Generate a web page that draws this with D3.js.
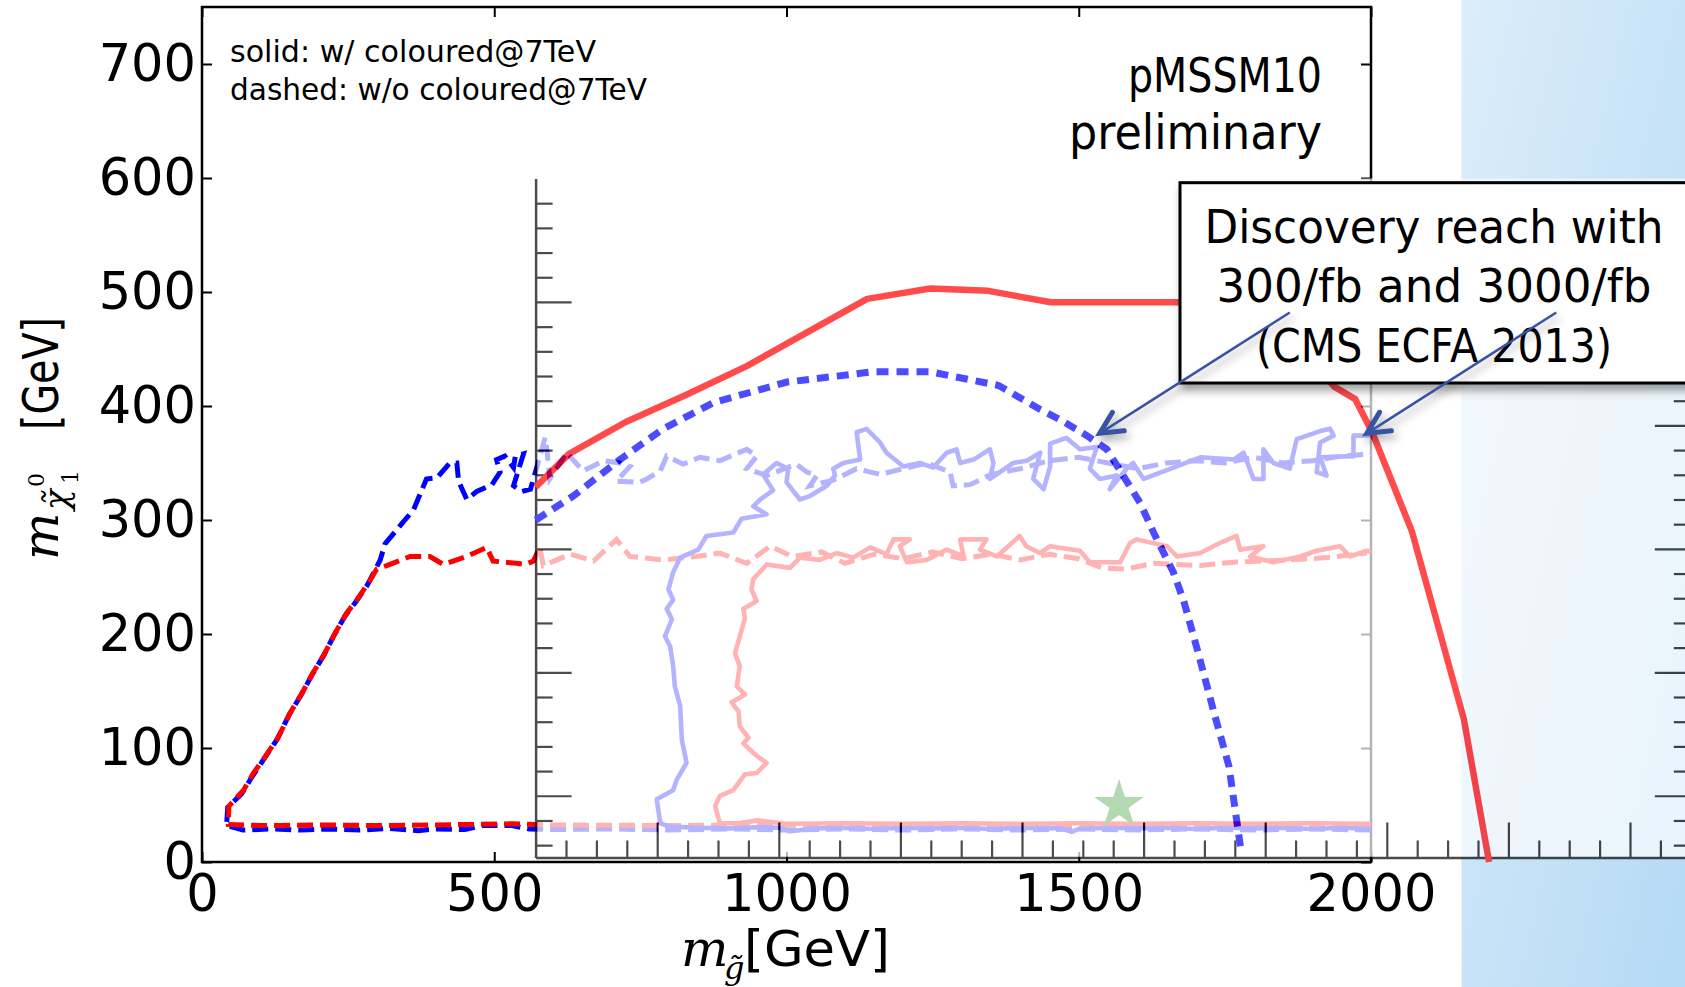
<!DOCTYPE html>
<html><head><meta charset="utf-8">
<script src="https://cdn.jsdelivr.net/npm/d3@7"></script>
<style>html,body{margin:0;padding:0;background:#fff;}svg{display:block;}</style>
</head><body>
<svg id="c" width="1685" height="987"></svg>
<script>
// ---------------- data (main plot units: gluino mass, neutralino mass in GeV) ----------------
const xTickValues = [0, 500, 1000, 1500, 2000];
const yTickValues = [0, 100, 200, 300, 400, 500, 600, 700];

const redDashed = [[2000,32],[1800,32.5],[1600,32],[1400,32.5],[1200,32],[1000,32.5],[800,32],[600,32.5],[530,33.5],[400,32.5],[300,32],[200,32.5],[100,32],[45,33],[46,49],[71,63],[88,78],[105,90],[131,110],[151,131],[171,148],[190,166],[210,183],[228,201],[247,218],[265,230],[285,245],[299,257],[316,260],[356,268],[390,268],[413,261],[453,268],[487,276],[498,264],[538,262],[553,261],[567,264],[578,276],[584,260],[630,270],[670,264],[709,283],[732,268],[789,265],[846,268],[886,271],[932,262],[972,277],[1010,268],[1060,272],[1100,262],[1150,270],[1200,266],[1250,272],[1300,266],[1350,270],[1400,265],[1450,270],[1500,266],[1540,258],[1582,257],[1628,262],[1708,260],[1765,263],[1861,265],[1924,267],[1993,271]];

const blueDashed = [[2000,28],[1900,29],[1800,28],[1700,29],[1600,28],[1500,29],[1400,28],[1300,29],[1200,28],[1100,29],[1000,28],[900,29],[800,28],[700,29],[600,28.5],[560,29],[530,32],[480,32],[450,28.5],[400,29],[370,27.5],[320,29.5],[270,28],[220,29],[170,28],[120,29],[70,28],[42,32],[44,48],[68,60],[86,75],[103,88],[129,108],[149,129],[169,146],[188,164],[208,181],[226,199],[245,216],[263,228],[283,243],[305,265],[313,279],[339,295],[362,309],[384,336],[402,337],[424,350],[436,350],[439,334],[453,318],[470,325],[496,331],[510,342],[504,353],[518,356],[533,346],[536,356],[550,358],[533,330],[547,325],[562,327],[575,350],[587,372],[590,362],[595,336],[624,359],[652,343],[687,352],[715,350],[732,347],[709,334],[749,333],[761,336],[784,343],[795,356],[823,349],[852,355],[886,352],[932,362],[949,356],[932,345],[966,339],[1017,349],[1035,342],[1052,339],[1040,330],[1080,335],[1120,345],[1160,340],[1200,345],[1240,350],[1280,342],[1285,330],[1314,331],[1350,340],[1400,345],[1450,352],[1500,355],[1550,350],[1600,345],[1650,350],[1700,352],[1750,350],[1800,355],[1850,350],[1900,352],[1950,356],[2000,358]];

const blueSolid = [[2000,29],[1950,30],[1900,29],[1850,30],[1800,29.5],[1750,30],[1700,29],[1650,30],[1600,29.5],[1550,30],[1500,29],[1488,26.5],[1470,29.5],[1400,30],[1350,29],[1300,30],[1250,29.5],[1200,30],[1150,29],[1100,30],[1050,29.5],[1006,27],[990,30],[950,30.5],[900,29.5],[850,30],[800,31],[784,34],[778,55],[806,63],[812,72],[829,87],[821,107],[818,137],[809,154],[806,172],[801,189],[792,198],[804,213],[795,222],[806,230],[798,239],[806,254],[818,267],[849,274],[863,286],[909,289],[923,301],[966,305],[943,312],[955,318],[977,326],[960,340],[983,350],[1003,345],[1000,333],[1023,318],[1040,321],[1069,330],[1083,339],[1080,345],[1097,350],[1126,353],[1120,377],[1137,380],[1160,368],[1171,359],[1200,347],[1228,350],[1251,346],[1274,359],[1291,362],[1297,350],[1320,353],[1348,362],[1354,350],[1348,336],[1365,342],[1388,350],[1411,352],[1434,359],[1422,336],[1440,327],[1451,347],[1451,367],[1479,372],[1502,362],[1531,364],[1519,345],[1536,336],[1565,339],[1553,327],[1582,345],[1593,350],[1611,336],[1662,346],[1708,355],[1765,353],[1782,359],[1799,336],[1816,336],[1816,362],[1833,350],[1861,345],[1873,371],[1913,378],[1930,380],[1936,374],[1913,368],[1907,342],[1924,339],[1913,355],[1970,356],[1970,374],[1993,374],[2000,375]];

const redSolid = [[2000,33.5],[1900,34],[1800,33.5],[1700,34],[1600,33.5],[1500,34],[1400,33.5],[1300,34],[1200,33.5],[1100,34],[1000,33.5],[950,36.5],[920,34],[886,34],[878,49],[886,58],[909,63],[929,77],[949,78],[966,87],[949,93],[926,104],[935,109],[920,119],[918,132],[906,140],[929,147],[915,154],[920,172],[912,183],[920,198],[929,214],[926,222],[949,229],[940,239],[943,248],[966,261],[1006,258],[1023,267],[1057,265],[1086,271],[1114,267],[1143,276],[1171,270],[1183,283],[1211,283],[1194,277],[1206,263],[1240,265],[1274,274],[1303,268],[1297,283],[1342,283],[1331,274],[1360,268],[1399,286],[1410,277],[1434,271],[1451,277],[1502,273],[1519,263],[1571,263],[1588,280],[1599,283],[1651,277],[1668,268],[1708,271],[1742,280],[1770,286],[1776,274],[1816,277],[1793,268],[1833,263],[1879,268],[1907,273],[1947,277],[1964,268],[1993,273],[2000,272]];

const bestFit = [1569, 50];

// overlaid CMS ECFA 2013 discovery reach (read in main-plot units)
const reach3000 = [[571,329],[628,358],[725,386],[825,409],[932,435],[1138,494],[1246,503],[1345,501],[1452,491],[1668,491],[1790,480],[1880,450],[1937,417],[1973,406],[2002,377],[2070,290],[2159,125],[2202,0]];
const reach300 = [[571,300],[635,321],[715,353],[789,380],[875,403],[1001,421],[1148,430],[1246,430],[1363,418],[1434,397],[1468,388],[1514,374],[1548,362],[1576,339],[1605,315],[1628,289],[1662,254],[1679,230],[1703,186],[1733,128],[1757,84],[1777,12]];

// overlay's own (unlabelled) axis ticks
const ovMajorX = [600,800,1000,1200,1400,1600,1800,2000,2200];
const ovMinorX = [450,500,550,650,700,750,850,900,950,1050,1100,1150,1250,1300,1350,1450,1500,1550,1650,1700,1750,1850,1900,1950,2050,2100,2150,2250];
const ovMajorY = [100,200,300,400,500];
const ovMinorY = [60,80,120,140,160,180,220,240,260,280,320,340,360,380,420,440,460,480,520,540,560,580];

// annotation arrows (tail -> head), main-plot units
const arrows = [ {from:[1861,482], to:[1536,376]}, {from:[2317,482], to:[1993,376]} ];

const legendLines = ["solid: w/ coloured@7TeV", "dashed: w/o coloured@7TeV"];
const tagLines = ["pMSSM10", "preliminary"];
const boxLines = ["Discovery reach with", "300/fb and 3000/fb", "(CMS ECFA 2013)"];

// ---------------- drawing ----------------
const W = 1685, H = 987;
const SANS = "'DejaVu Sans', Verdana, sans-serif";
const SERIF = "'DejaVu Serif', 'Liberation Serif', serif";
const svg = d3.select('#c');
const defs = svg.append('defs');
const gr = defs.append('linearGradient').attr('id','slideBlue').attr('x1','0').attr('y1','0').attr('x2','1').attr('y2','1');
gr.append('stop').attr('offset','0%').attr('stop-color','#dcedfa');
gr.append('stop').attr('offset','100%').attr('stop-color','#b4daf5');
const fl = defs.append('filter').attr('id','shadow').attr('x','-10%').attr('y','-20%').attr('width','130%').attr('height','150%');
fl.append('feDropShadow').attr('dx',3).attr('dy',6).attr('stdDeviation',5).attr('flood-color','#000').attr('flood-opacity',0.38);
const fl2 = defs.append('filter').attr('id','ashadow').attr('x','-20%').attr('y','-20%').attr('width','150%').attr('height','150%');
fl2.append('feDropShadow').attr('dx',3).attr('dy',5).attr('stdDeviation',4).attr('flood-color','#000').attr('flood-opacity',0.35);

svg.append('rect').attr('width',W).attr('height',H).attr('fill','#fff');
svg.append('rect').attr('x',1461.5).attr('y',0).attr('width',W-1461.5).attr('height',H).attr('fill','url(#slideBlue)');

const x = d3.scaleLinear().domain([0,2000]).range([202,1371]);
const y = d3.scaleLinear().domain([0,750]).range([862,7]);

function styleAxis(g, fs){
  g.select('.domain').remove();
  g.selectAll('.tick line').attr('stroke','#000').attr('stroke-width',2);
  g.attr('font-family',SANS).attr('font-size',fs);
  g.selectAll('text').attr('fill','#000');
}
svg.append('g').attr('transform',`translate(0,${y(0)})`)
  .call(d3.axisBottom(x).tickValues(xTickValues).tickFormat(d3.format('d')).tickSize(-10).tickPadding(13))
  .call(g=>styleAxis(g,51));
svg.append('g').attr('transform',`translate(${x(0)},0)`)
  .call(d3.axisLeft(y).tickValues(yTickValues).tickFormat(d3.format('d')).tickSize(-10).tickPadding(6))
  .call(g=>styleAxis(g,51));
svg.append('g').attr('transform',`translate(0,${y(750)})`)
  .call(d3.axisTop(x).tickValues(xTickValues).tickFormat('').tickSize(-10))
  .call(g=>styleAxis(g,10));
svg.append('g').attr('transform',`translate(${x(2000)},0)`)
  .call(d3.axisRight(y).tickValues(yTickValues).tickFormat('').tickSize(-10))
  .call(g=>styleAxis(g,10));
svg.append('rect').attr('x',x(0)).attr('y',y(750)).attr('width',x(2000)-x(0)).attr('height',y(0)-y(750))
  .attr('fill','none').attr('stroke','#000').attr('stroke-width',2.5);

const line = d3.line().x(d=>x(d[0])).y(d=>y(d[1]));
const plotG = svg.append('g');
plotG.append('path').datum(blueDashed).attr('d',line).attr('fill','none').attr('stroke','#0000ff').attr('stroke-width',5).attr('stroke-dasharray','16,7');
plotG.append('path').datum(redDashed).attr('d',line).attr('fill','none').attr('stroke','#ff0000').attr('stroke-width',5).attr('stroke-dasharray','16,7');
plotG.append('path').datum(blueSolid).attr('d',line).attr('fill','none').attr('stroke','#0000ff').attr('stroke-width',4.6).attr('stroke-linejoin','round');
plotG.append('path').datum(redSolid).attr('d',line).attr('fill','none').attr('stroke','#ff0000').attr('stroke-width',4.6).attr('stroke-linejoin','round');
plotG.append('path').attr('d',d3.symbol().type(d3.symbolStar).size(760)())
  .attr('transform',`translate(${x(bestFit[0])},${y(bestFit[1])})`).attr('fill','#008000');

// legend text & tag
const legW = [366, 417];
legendLines.forEach((t,i)=>{
  svg.append('text').attr('x',230).attr('y',62+i*38).attr('font-family',SANS).attr('font-size',30)
    .attr('textLength',legW[i]).attr('lengthAdjust','spacingAndGlyphs').attr('fill','#000').text(t);
});
const tagX = [1128, 1069], tagW = [194, 253];
tagLines.forEach((t,i)=>{
  svg.append('text').attr('x',tagX[i]).attr('y',92+i*56.5).attr('font-family',SANS).attr('font-size',48)
    .attr('textLength',tagW[i]).attr('lengthAdjust','spacingAndGlyphs').attr('fill','#000').text(t);
});

// axis titles
const xt = svg.append('g');
xt.append('text').attr('x',681).attr('y',966).attr('font-family',SERIF).attr('font-style','italic').attr('font-size',50).text('m');
xt.append('text').attr('x',724).attr('y',979).attr('font-family',SERIF).attr('font-style','italic').attr('font-size',32).text('g\u0303');
xt.append('text').attr('x',744).attr('y',966).attr('font-family',SANS).attr('font-size',50)
  .attr('textLength',146).attr('lengthAdjust','spacingAndGlyphs').text('[GeV]');

const yt = svg.append('g').attr('transform','translate(58,560) rotate(-90)');
yt.append('text').attr('x',0).attr('y',0).attr('font-family',SERIF).attr('font-style','italic').attr('font-size',50).text('m');
yt.append('text').attr('x',50).attr('y',10).attr('font-family',SERIF).attr('font-style','italic').attr('font-size',34).text('\u03c7\u0303');
yt.append('text').attr('x',73).attr('y',-14).attr('font-family',SERIF).attr('font-size',22).text('0');
yt.append('text').attr('x',76).attr('y',20).attr('font-family',SERIF).attr('font-size',22).text('1');
yt.append('text').attr('x',130).attr('y',0).attr('font-family',SANS).attr('font-size',50)
  .attr('textLength',113).attr('lengthAdjust','spacingAndGlyphs').text('[GeV]');

// ---------------- semi-transparent overlaid figure ----------------
const oX = d3.scaleLinear().domain([400,2300]).range([535.6,1690.8]);
const oY = d3.scaleLinear().domain([50,600]).range([857.5,178.5]);
const ov = svg.append('g').attr('opacity',0.7);
ov.append('rect').attr('x',oX(400)).attr('y',oY(600)).attr('width',oX(2300)-oX(400)).attr('height',oY(50)-oY(600)).attr('fill','#fff');
function ovAxis(g){ g.selectAll('.tick line').attr('stroke','#000').attr('stroke-width',2.2); g.selectAll('text').remove(); }
ov.append('g').attr('transform',`translate(${oX(400)},0)`).call(d3.axisLeft(oY).tickValues(ovMajorY).tickSize(-36).tickSizeOuter(0).tickFormat(''))
  .call(ovAxis).call(g=>g.select('.domain').attr('stroke','#000').attr('stroke-width',2.5));
ov.append('g').attr('transform',`translate(${oX(400)},0)`).call(d3.axisLeft(oY).tickValues(ovMinorY).tickSize(-17).tickFormat(''))
  .call(ovAxis).call(g=>g.select('.domain').remove());
ov.append('g').attr('transform',`translate(0,${oY(50)})`).call(d3.axisBottom(oX).tickValues(ovMajorX).tickSize(-35).tickSizeOuter(0).tickFormat(''))
  .call(ovAxis).call(g=>g.select('.domain').attr('stroke','#000').attr('stroke-width',2.5));
ov.append('g').attr('transform',`translate(0,${oY(50)})`).call(d3.axisBottom(oX).tickValues(ovMinorX).tickSize(-17).tickFormat(''))
  .call(ovAxis).call(g=>g.select('.domain').remove());
ov.append('g').attr('transform',`translate(${oX(2300)},0)`).call(d3.axisRight(oY).tickValues(ovMajorY).tickSize(-36).tickFormat(''))
  .call(ovAxis).call(g=>g.select('.domain').remove());
ov.append('g').attr('transform',`translate(${oX(2300)},0)`).call(d3.axisRight(oY).tickValues(ovMinorY).tickSize(-17).tickFormat(''))
  .call(ovAxis).call(g=>g.select('.domain').remove());
ov.append('path').datum(reach3000).attr('d',line).attr('fill','none').attr('stroke','#ff0000').attr('stroke-width',6.5).attr('stroke-linejoin','round');
ov.append('path').datum(reach300).attr('d',line).attr('fill','none').attr('stroke','#0000ff').attr('stroke-width',7).attr('stroke-dasharray','12,8');

// ---------------- annotation box ----------------
svg.append('rect').attr('x',1180).attr('y',182.7).attr('width',540).attr('height',200.3)
  .attr('fill','#fff').attr('stroke','#000').attr('stroke-width',3).attr('filter','url(#shadow)');
const boxW = [459, 435, 356], boxY = [243, 302, 362];
boxLines.forEach((t,i)=>{
  svg.append('text').attr('x',1434).attr('y',boxY[i]).attr('text-anchor','middle').attr('font-family',SANS).attr('font-size',47)
    .attr('textLength',boxW[i]).attr('lengthAdjust','spacingAndGlyphs').attr('fill','#000').text(t);
});
const ag = svg.append('g').attr('filter','url(#ashadow)');
arrows.forEach(a=>{
  const x0=x(a.from[0]), y0=y(a.from[1]), x1=x(a.to[0]), y1=y(a.to[1]);
  const dx=x1-x0, dy=y1-y0, L=Math.hypot(dx,dy), ux=dx/L, uy=dy/L, nx=-uy, ny=ux;
  ag.append('line').attr('x1',x0).attr('y1',y0).attr('x2',x1).attr('y2',y1).attr('stroke','#3853a3').attr('stroke-width',2.5);
  const hl=22, hw=11;
  ag.append('path').attr('d',`M${x1-hl*ux+hw*nx},${y1-hl*uy+hw*ny}L${x1},${y1}L${x1-hl*ux-hw*nx},${y1-hl*uy-hw*ny}`)
    .attr('fill','none').attr('stroke','#3853a3').attr('stroke-width',5).attr('stroke-linecap','round').attr('stroke-linejoin','miter');
});
</script>
</body></html>
